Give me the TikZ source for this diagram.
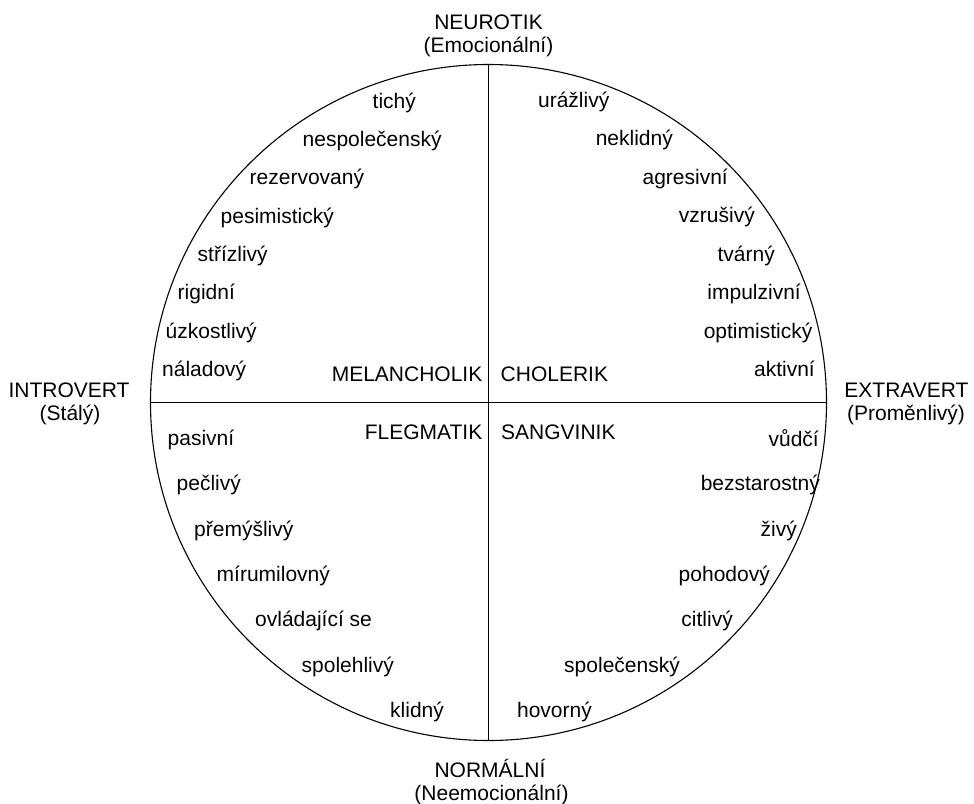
\documentclass[tikz,border=0pt]{standalone}
\usepackage{fontspec}
\setmainfont{Liberation Sans}
\begin{document}
\begin{tikzpicture}[x=1pt,y=-1pt,
  word/.style={inner sep=0pt, font=\fontsize{21}{25}\selectfont},
  wl/.style={word, anchor=base west},
  wr/.style={word, anchor=base east},
  wc/.style={word, anchor=base}]
\useasboundingbox (0,0) rectangle (974,803);
\node[circle, draw, line width=1.1pt, minimum size=676pt, inner sep=0pt] (c) at (488.5,402.5) {};
\draw[line width=1.1pt] (c.north) -- (c.south);
\draw[line width=1.1pt] (c.west) -- (c.east);
% axis labels
\node[wc] (neu1) at (488.5,29) {NEUROTIK};
\node[wc] (neu2) at (488.5,52) {(Emocionální)};
\node[wc] (int1) at (69,397) {INTROVERT};
\node[wc] (int2) at (70,420) {(Stálý)};
\node[wc] (ext1) at (906.5,397) {EXTRAVERT};
\node[wc] (ext2) at (906,420) {(Proměnlivý)};
\node[wc] (nor1) at (490,777) {NORMÁLNÍ};
\node[wc] (nor2) at (491.5,800) {(Neemocionální)};
% quadrant names
\node[wr] (mel) at (482.5,381.7) {MELANCHOLIK};
\node[wl] (cho) at (500.5,381.7) {CHOLERIK};
\node[wr] (fle) at (482.5,439.3) {FLEGMATIK};
\node[wl] (san) at (501,439.3) {SANGVINIK};
% upper left
\node[wl] (ul1) at (372.5,108) {tichý};
\node[wl] (ul2) at (302.5,146) {nespolečenský};
\node[wl] (ul3) at (249.5,184.5) {rezervovaný};
\node[wl] (ul4) at (220.5,223) {pesimistický};
\node[wl] (ul5) at (197.5,261) {střízlivý};
\node[wl] (ul6) at (177.5,299.5) {rigidní};
\node[wl] (ul7) at (165.5,338) {úzkostlivý};
\node[wl] (ul8) at (162,376) {náladový};
% upper right
\node[wr] (ur1) at (609.5,107) {urážlivý};
\node[wr] (ur2) at (673,145) {neklidný};
\node[wr] (ur3) at (728,184) {agresivní};
\node[wr] (ur4) at (755,222.5) {vzrušivý};
\node[wr] (ur5) at (775,261) {tvárný};
\node[wr] (ur6) at (801,299.5) {impulzivní};
\node[wr] (ur7) at (812.5,338) {optimistický};
\node[wr] (ur8) at (815,376) {aktivní};
% lower left
\node[wl] (ll1) at (167.5,445) {pasivní};
\node[wl] (ll2) at (176.5,490.5) {pečlivý};
\node[wl] (ll3) at (194,536) {přemýšlivý};
\node[wl] (ll4) at (216.5,581) {mírumilovný};
\node[wl] (ll5) at (255,626.5) {ovládající se};
\node[wl] (ll6) at (301.5,672) {spolehlivý};
\node[wl] (ll7) at (390,717) {klidný};
% lower right
\node[wr] (lr1) at (819,446) {vůdčí};
\node[wr] (lr2) at (820,490.5) {bezstarostný};
\node[wr] (lr3) at (797,536) {živý};
\node[wr] (lr4) at (770,581) {pohodový};
\node[wr] (lr5) at (733,626.5) {citlivý};
\node[wr] (lr6) at (680,672) {společenský};
\node[wr] (lr7) at (592,717) {hovorný};
\end{tikzpicture}
\end{document}
